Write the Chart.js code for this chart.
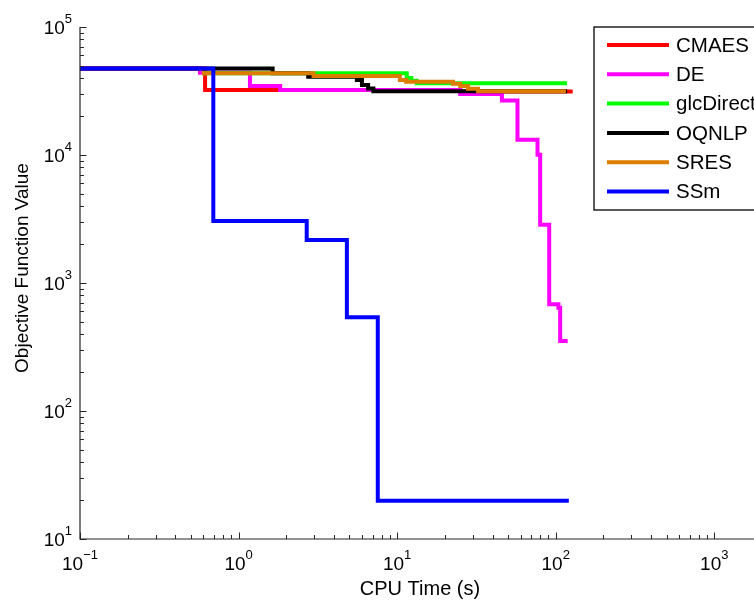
<!DOCTYPE html>
<html>
<head>
<meta charset="utf-8">
<title>Objective Function Value vs CPU Time</title>
<script src="https://cdn.jsdelivr.net/npm/chart.js@4.4.0/dist/chart.umd.min.js"></script>
<style>
  html, body { margin: 0; padding: 0; background: #fff; overflow: hidden; }
  #wrap { width: 754px; height: 602px; overflow: hidden; }
  #chart { display: block; }
</style>
</head>
<body>
<div id="wrap">
  <canvas id="chart" width="770" height="602"></canvas>
</div>
<script>
// best objective value found so far, per solver (step curves)
const seriesNames = ["CMAES", "DE", "glcDirect", "OQNLP", "SRES", "SSm"];
const seriesColors = ["#ff0000", "#ff00ff", "#00ff00", "#000000", "#dc7d00", "#0000ff"];

const cmaesTime = [0.1, 0.615, 25, 128];
const cmaesValue = [47500, 32200, 31300, 31300];

const deTime = [0.1, 0.571, 1.18, 1.83, 25.0, 45.8, 57.4, 76.8, 79.8, 91.0, 104, 106.7, 119];
const deValue = [47500, 44000, 34600, 32200, 29900, 26650, 13150, 10050, 2846, 681, 642, 352, 352];

const glcTime = [0.59, 11.5, 12.3, 13.3, 118];
const glcValue = [43500, 40000, 38000, 36400, 36400];

const oqnlpTime = [0.1, 1.64, 2.75, 5.57, 6.0, 6.56, 7.08, 118];
const oqnlpValue = [47500, 43500, 40900, 38500, 35200, 33100, 31500, 31500];

const sresTime = [0.586, 2.97, 10.4, 11.4, 22.5, 25.0, 28.0, 32.4, 116];
const sresValue = [43500, 41400, 38500, 37400, 36000, 34600, 33000, 31500, 31500];

const ssmTime = [0.1, 0.693, 2.69, 4.82, 7.55, 121];
const ssmValue = [47500, 3050, 2170, 540, 19.9, 19.9];

// decade tick exponents
const xTickExp = [-1, 0, 1, 2, 3];
const yTickExp = [1, 2, 3, 4, 5];

const xTitle = "CPU Time (s)";
const yTitle = "Objective Function Value";

const FONT = '"Liberation Sans", Arial, Helvetica, sans-serif';

function toPoints(t, v) {
  return t.map(function (x, i) { return { x: x, y: v[i] }; });
}

const allTimes = [cmaesTime, deTime, glcTime, oqnlpTime, sresTime, ssmTime];
const allValues = [cmaesValue, deValue, glcValue, oqnlpValue, sresValue, ssmValue];

const datasets = seriesNames.map(function (name, i) {
  return {
    label: name,
    data: toPoints(allTimes[i], allValues[i]),
    borderColor: seriesColors[i],
    backgroundColor: seriesColors[i],
    borderWidth: 4,
    stepped: true,
    pointRadius: 0,
    fill: false,
    borderJoinStyle: "miter",
    // later solvers are painted on top
    order: seriesNames.length - i,
  };
});

// "10" with a raised exponent
function drawPow(c, exp, x, y, align) {
  const expText = exp < 0 ? "\u2212" + (-exp) : String(exp);
  c.font = "19px " + FONT;
  const wb = c.measureText("10").width;
  c.font = "13px " + FONT;
  const we = c.measureText(expText).width;
  let left = x;
  if (align === "center") left = x - (wb + we) / 2;
  if (align === "right") left = x - (wb + we);
  c.textAlign = "left";
  c.textBaseline = "alphabetic";
  c.font = "19px " + FONT;
  c.fillText("10", left, y);
  c.font = "13px " + FONT;
  c.fillText(expText, left + wb, y - 11);
}

const matlabAxes = {
  id: "matlabAxes",
  afterDraw: function (chart) {
    const c = chart.ctx;
    const xs = chart.scales.x;
    const ys = chart.scales.y;
    const area = chart.chartArea;
    c.save();

    // axis lines (left and bottom only)
    c.strokeStyle = "#262626";
    c.lineWidth = 1.2;
    c.beginPath();
    c.moveTo(area.left, area.top);
    c.lineTo(area.left, area.bottom);
    c.lineTo(area.right, area.bottom);
    c.stroke();

    // ticks pointing inward
    c.lineWidth = 1;
    c.beginPath();
    for (let k = xTickExp[0]; k <= 3; k++) {
      for (let m = 1; m <= 9; m++) {
        const v = m * Math.pow(10, k);
        if (v > xs.max) continue;
        const px = Math.round(xs.getPixelForValue(v)) + 0.5;
        const len = m === 1 ? 6.5 : 4;
        c.moveTo(px, area.bottom);
        c.lineTo(px, area.bottom - len);
      }
    }
    for (let k = yTickExp[0]; k <= yTickExp[yTickExp.length - 1]; k++) {
      for (let m = 1; m <= 9; m++) {
        const v = m * Math.pow(10, k);
        if (v > ys.max) continue;
        const py = Math.round(ys.getPixelForValue(v)) + 0.5;
        const len = m === 1 ? 6.5 : 4;
        c.moveTo(area.left, py);
        c.lineTo(area.left + len, py);
      }
    }
    c.stroke();

    // tick labels
    c.fillStyle = "#000";
    xTickExp.forEach(function (e) {
      const px = xs.getPixelForValue(Math.pow(10, e));
      drawPow(c, e, px, area.bottom + 31, "center");
    });
    yTickExp.forEach(function (e) {
      const py = ys.getPixelForValue(Math.pow(10, e));
      drawPow(c, e, area.left - 8, py + 7, "right");
    });

    // axis titles
    c.textAlign = "center";
    c.textBaseline = "alphabetic";
    c.font = "20px " + FONT;
    c.fillText(xTitle, 420, 595);
    c.font = "19px " + FONT;
    c.save();
    c.translate(28, 268);
    c.rotate(-Math.PI / 2);
    c.fillText(yTitle, 0, 0);
    c.restore();

    // legend box, north-east corner
    const lx = 594, ly = 27, lw = 168, lh = 183;
    c.fillStyle = "#fff";
    c.fillRect(lx, ly, lw, lh);
    c.strokeStyle = "#000";
    c.lineWidth = 1.3;
    c.strokeRect(lx, ly, lw, lh);
    c.font = "20.5px " + FONT;
    c.textAlign = "left";
    c.textBaseline = "middle";
    seriesNames.forEach(function (name, i) {
      const ry = 45 + i * 29.3;
      c.strokeStyle = seriesColors[i];
      c.lineWidth = 4;
      c.beginPath();
      c.moveTo(607, ry);
      c.lineTo(669, ry);
      c.stroke();
      c.fillStyle = "#000";
      c.fillText(name, 676, ry + 1);
    });

    c.restore();
  },
};

const ctx = document.getElementById("chart").getContext("2d");
const myChart = new Chart(ctx, {
  type: "line",
  data: { datasets: datasets },
  options: {
    responsive: false,
    animation: false,
    devicePixelRatio: 1,
    events: [],
    layout: { padding: { left: 80, top: 27, right: 8, bottom: 63 } },
    scales: {
      x: { type: "logarithmic", min: 0.1, max: 2000, display: false },
      y: { type: "logarithmic", min: 10, max: 100000, display: false },
    },
    plugins: {
      legend: { display: false },
      tooltip: { enabled: false },
    },
  },
  plugins: [matlabAxes],
});
</script>
</body>
</html>
